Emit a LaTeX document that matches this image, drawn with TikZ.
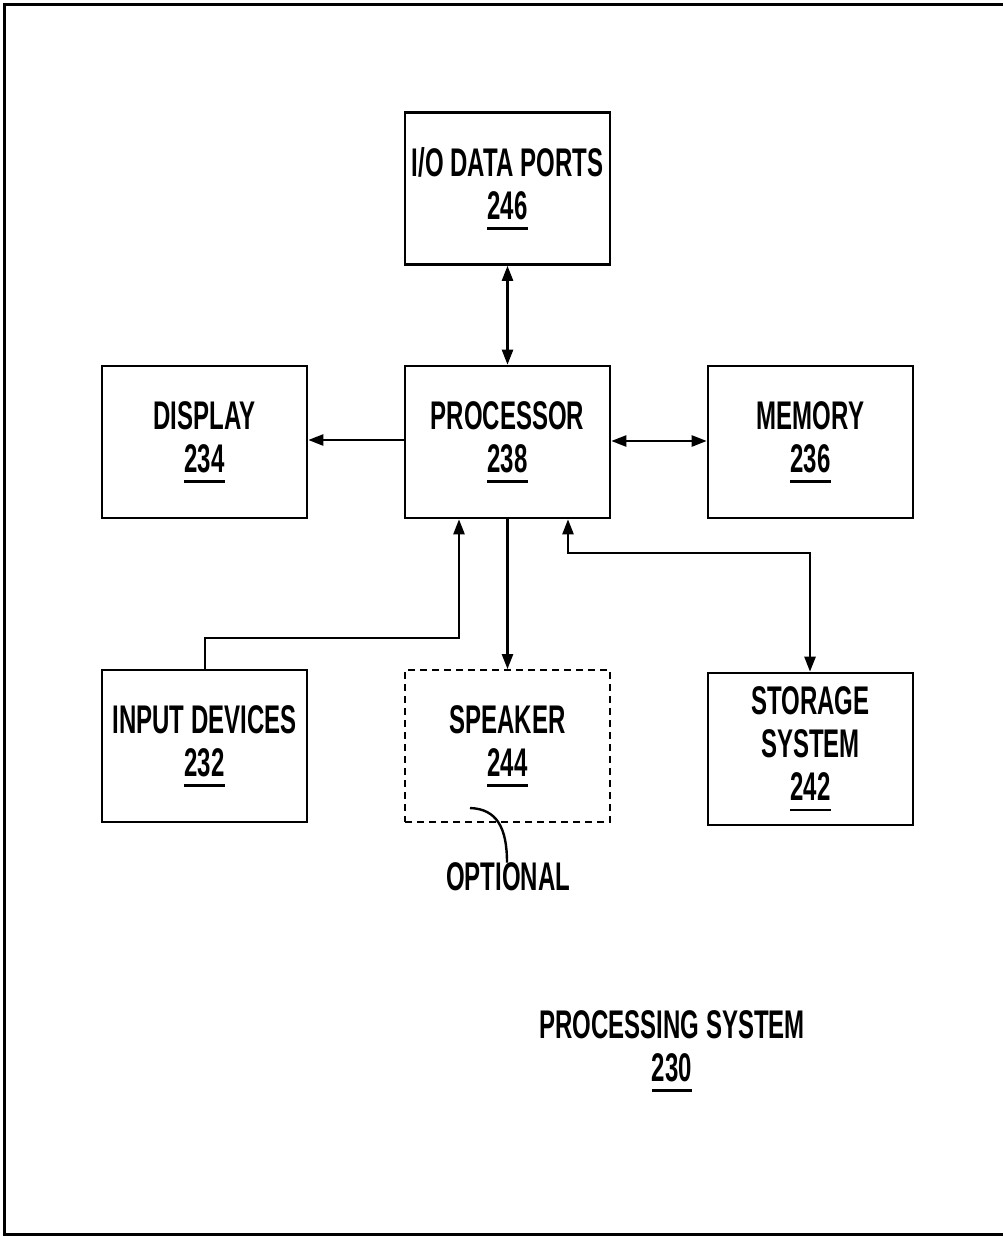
\documentclass[tikz,border=0pt]{standalone}
\usepackage{fontspec}
\setmainfont{Liberation Sans}[FakeStretch=0.6]
\usetikzlibrary{arrows.meta}
\newcommand\refnum[1]{\setbox0\hbox{#1}\rlap{\vrule height -8pt depth 10.8pt width \wd0}\box0}
\begin{document}
\begin{tikzpicture}[x=1pt,y=-1pt,
  blk/.style={draw,line width=2.6pt,minimum width=205pt,minimum height=152pt,inner sep=0pt,
    align=center,font=\bfseries\fontsize{40}{43}\selectfont},
  optblk/.style={blk,line width=1.8pt,dash pattern=on 7pt off 5pt},
  lbl/.style={align=center,inner sep=0pt,font=\bfseries\fontsize{40}{43}\selectfont},
  conn/.style={line width=2.4pt,-{Stealth[length=15pt,width=11pt,inset=0pt]}},
  conn2/.style={line width=2.4pt,{Stealth[length=15pt,width=11pt,inset=0pt]}-{Stealth[length=15pt,width=11pt,inset=0pt]}},
  plain/.style={line width=2.4pt}]
\useasboundingbox (0,0) rectangle (1003,1236);
\draw[line width=3pt] (1003,5) -- (4,5) -- (4,1234) -- (1003,1234);

\node[blk] (io) at (507.5,188.5) {I/O DATA PORTS\\\refnum{246}};
\node[blk] (disp) at (204.5,442) {DISPLAY\\\refnum{234}};
\node[blk] (proc) at (507.5,442) {PROCESSOR\\\refnum{238}};
\node[blk] (mem) at (810.5,442) {MEMORY\\\refnum{236}};
\node[blk] (inp) at (204.5,746) {INPUT DEVICES\\\refnum{232}};
\node[optblk] (spk) at (507.5,746) {SPEAKER\\\refnum{244}};
\node[blk] (sto) at (810.5,749) {STORAGE\\SYSTEM\\\refnum{242}};

\coordinate (inA) at (205,638);
\coordinate (inB) at (459,638);
\coordinate (stA) at (810,553);
\coordinate (stB) at (568,553);

\draw[conn2] (io.south) -- (proc.north);
\draw[conn] (proc.west |- 0,440) -- (disp.east |- 0,440);
\draw[conn2] (proc.east |- 0,441) -- (mem.west |- 0,441);
\draw[conn] (inp.north -| inA) -- (inA) -- (inB) -- (inB |- proc.south);
\draw[conn] (proc.south) -- (spk.north);
\draw[conn2] (sto.north -| stA) -- (stA) -- (stB) -- (stB |- proc.south);

\node[lbl] (opt) at (508,877) {OPTIONAL};
\coordinate (optS) at (470,808);
\draw[plain] (optS) .. controls (497,809) and (507,828) .. (opt.north -| 507,0);

\node[lbl] (ps) at (672,1051) {PROCESSING SYSTEM\\\refnum{230}};
\end{tikzpicture}
\end{document}
